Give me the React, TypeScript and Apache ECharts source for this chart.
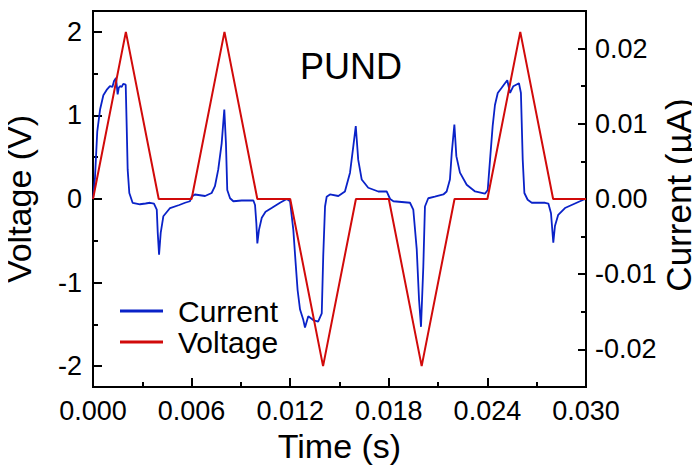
import React, { useEffect, useRef } from "react";
import * as echarts from "echarts";

const FONT = "Liberation Sans, Arial, sans-serif";

// Voltage waveform (time in s, voltage in V)
const voltageTime = [0, 0.002, 0.004, 0.006, 0.008, 0.010, 0.012, 0.014, 0.016, 0.018, 0.020, 0.022, 0.024, 0.026, 0.028, 0.030];
const voltageValue = [0, 2, 0, 0, 2, 0, 0, -2, 0, 0, -2, 0, 0, 2, 0, 0];

// Current response (time in s, current in µA)
const currentTime = [
  0.0, 0.00012, 0.00026, 0.00043, 0.00063, 0.00083, 0.00103, 0.00118, 0.00128, 0.0014, 0.00145, 0.0015, 0.00157,
  0.00164, 0.00175, 0.00184, 0.00199, 0.00205, 0.00211, 0.00221, 0.00241, 0.00286, 0.0032, 0.00347, 0.00371,
  0.00388, 0.00394, 0.00402, 0.00412, 0.00428, 0.00469, 0.00525, 0.0056, 0.0059, 0.006, 0.0062, 0.00682, 0.00722,
  0.00742, 0.00762, 0.00783, 0.00799, 0.00809, 0.00817, 0.00834, 0.00854, 0.00905, 0.00976, 0.00986, 0.00994,
  0.01, 0.0101, 0.01027, 0.0105, 0.01087, 0.01138, 0.01179, 0.01199, 0.01219, 0.01233, 0.01245, 0.0126, 0.0128,
  0.0129, 0.0131, 0.0134, 0.0137, 0.01392, 0.01401, 0.01412, 0.01422, 0.01442, 0.01493, 0.01533, 0.01564, 0.01584,
  0.01599, 0.01614, 0.01635, 0.01675, 0.01736, 0.01787, 0.01808, 0.01828, 0.01929, 0.01949, 0.0197, 0.01984,
  0.01996, 0.0201, 0.0202, 0.0204, 0.0208, 0.02132, 0.02152, 0.02172, 0.02183, 0.02199, 0.02211, 0.02233, 0.02274,
  0.02325, 0.02385, 0.02402, 0.02416, 0.02432, 0.02446, 0.02463, 0.02487, 0.02507, 0.02521, 0.02538, 0.02558,
  0.02592, 0.02604, 0.02615, 0.02625, 0.02645, 0.0267, 0.02751, 0.02771, 0.02787, 0.02801, 0.02811, 0.02831,
  0.02872, 0.02933, 0.02984, 0.03,
];
const currentValue = [
  0.0, 0.0028, 0.009, 0.0119, 0.0138, 0.0145, 0.015, 0.0149, 0.0157, 0.0161, 0.015, 0.0139, 0.0148,
  0.015, 0.0149, 0.0153, 0.0152, 0.0097, 0.0039, 0.0008, -0.0005, -0.0007, -0.0006, -0.0005, -0.0006,
  -0.0014, -0.0045, -0.0074, -0.0045, -0.0023, -0.0012, -0.0008, -0.0005, -0.0003, 0.0003, 0.0006, 0.0004, 0.0008,
  0.0017, 0.0039, 0.0074, 0.0119, 0.0074, 0.0012, 0.0001, -0.0003, -0.0002, -0.0002, -0.0008, -0.0032,
  -0.0059, -0.0041, -0.0025, -0.0017, -0.0012, -0.0005, 0.0, -0.0003, -0.0041, -0.0085, -0.0121, -0.0147, -0.0161,
  -0.0171, -0.0156, -0.0161, -0.0163, -0.0152, -0.0076, -0.001, 0.0003, 0.0006, 0.0004, 0.001, 0.0035, 0.007,
  0.0097, 0.0052, 0.0026, 0.0015, 0.001, 0.001, 0.0, -0.0003, -0.0005, -0.0014, -0.0067, -0.0134,
  -0.017, -0.009, -0.001, 0.0001, 0.0003, 0.0006, 0.001, 0.0026, 0.0061, 0.0099, 0.0057, 0.0035, 0.0019,
  0.001, 0.0007, 0.0012, 0.0052, 0.0097, 0.0125, 0.0141, 0.0148, 0.0154, 0.0158, 0.0141, 0.015,
  0.0154, 0.0141, 0.0052, 0.0008, -0.0001, -0.0005, -0.0005, -0.0006, -0.0019, -0.0058, -0.0036, -0.0021,
  -0.0012, -0.0006, -0.0001, 0.0,
];

// Tick values
const voltageTicks = [-2, -1, 0, 1, 2];
const voltageMinorTicks = [-1.5, -0.5, 0.5, 1.5];
const currentTicks = [-0.02, -0.01, 0, 0.01, 0.02];
const currentMinorTicks = [-0.015, -0.005, 0.005, 0.015];

const BLACK = "#000";

export default function App() {
  const ref = useRef<HTMLDivElement>(null);
  useEffect(() => {
    if (!ref.current) return;
    const chart = echarts.init(ref.current, undefined, { renderer: "svg" });
    const labelStyle = { color: BLACK, fontSize: 27, fontFamily: FONT };
    const nameStyle = { color: BLACK, fontSize: 34, fontFamily: FONT };
    const minorAxis = (pos: string, min: number, max: number, vals: number[]) => ({
      type: "value",
      position: pos,
      min,
      max,
      axisLine: { show: false },
      axisTick: { show: true, inside: true, length: 5, customValues: vals, lineStyle: { color: BLACK, width: 2 } },
      axisLabel: { show: false },
      splitLine: { show: false },
    });
    chart.setOption({
      animation: false,
      backgroundColor: "#fff",
      title: {
        text: "PUND",
        left: 295,
        top: 43,
        textStyle: { color: BLACK, fontSize: 36, fontWeight: "normal", fontFamily: FONT },
      },
      legend: {
        orient: "vertical",
        left: 115,
        top: 291,
        itemWidth: 43,
        itemHeight: 3,
        itemGap: 1,
        icon: "rect",
        data: ["Current", "Voltage"],
        textStyle: { color: BLACK, fontSize: 30, fontFamily: FONT, padding: [0, 0, 0, 10] },
      },
      graphic: [
        {
          type: "text",
          x: 678,
          y: 195,
          rotation: Math.PI / 2,
          style: {
            text: "Current (µA)",
            fill: BLACK,
            font: `35px ${FONT}`,
            align: "center",
            verticalAlign: "middle",
          },
        },
      ],
      grid: {
        left: 93,
        right: 114,
        top: 11,
        bottom: 86,
        containLabel: false,
        outerBoundsMode: "none",
        show: true,
        borderColor: BLACK,
        borderWidth: 2,
        backgroundColor: "transparent",
      },
      xAxis: {
        type: "value",
        min: 0,
        max: 0.03,
        interval: 0.006,
        axisLine: { show: true, onZero: false, lineStyle: { color: BLACK, width: 2 } },
        axisTick: { show: true, inside: true, length: 9, lineStyle: { color: BLACK, width: 2 } },
        minorTick: { show: true, splitNumber: 2, length: 5, lineStyle: { color: BLACK, width: 2 } },
        axisLabel: { ...labelStyle, margin: 10, formatter: (v: number) => v.toFixed(3) },
        splitLine: { show: false },
        minorSplitLine: { show: false },
        name: "Time (s)",
        nameLocation: "middle",
        nameGap: 42,
        nameTextStyle: nameStyle,
      },
      yAxis: [
        {
          type: "value",
          position: "left",
          min: -2.25,
          max: 2.25,
          axisLine: { show: true, onZero: false, lineStyle: { color: BLACK, width: 2 } },
          axisTick: { show: true, inside: true, length: 9, customValues: voltageTicks, lineStyle: { color: BLACK, width: 2 } },
          axisLabel: { ...labelStyle, margin: 11, customValues: voltageTicks, formatter: (v: number) => String(v) },
          splitLine: { show: false },
          name: "Voltage (V)",
          nameLocation: "middle",
          nameGap: 57,
          nameTextStyle: nameStyle,
        },
        {
          type: "value",
          position: "right",
          min: -0.025,
          max: 0.025,
          axisLine: { show: true, onZero: false, lineStyle: { color: BLACK, width: 2 } },
          axisTick: { show: true, inside: true, length: 8, customValues: currentTicks, lineStyle: { color: BLACK, width: 2 } },
          axisLabel: { ...labelStyle, margin: 9, customValues: currentTicks, formatter: (v: number) => v.toFixed(2) },
          splitLine: { show: false },
        },
        minorAxis("left", -2.25, 2.25, voltageMinorTicks),
        minorAxis("right", -0.025, 0.025, currentMinorTicks),
      ],
      series: [
        {
          name: "Current",
          type: "line",
          yAxisIndex: 1,
          showSymbol: false,
          symbol: "none",
          color: "#0a22c8",
          lineStyle: { width: 1.8, color: "#0a22c8" },
          data: currentTime.map((t, i) => [t, currentValue[i]]),
        },
        {
          name: "Voltage",
          type: "line",
          yAxisIndex: 0,
          showSymbol: false,
          symbol: "none",
          color: "#d10a0a",
          lineStyle: { width: 2, color: "#d10a0a" },
          data: voltageTime.map((t, i) => [t, voltageValue[i]]),
        },
      ],
    });
    return () => chart.dispose();
  }, []);
  return <div ref={ref} style={{ width: 700, height: 473, margin: -8 }} />;
}
